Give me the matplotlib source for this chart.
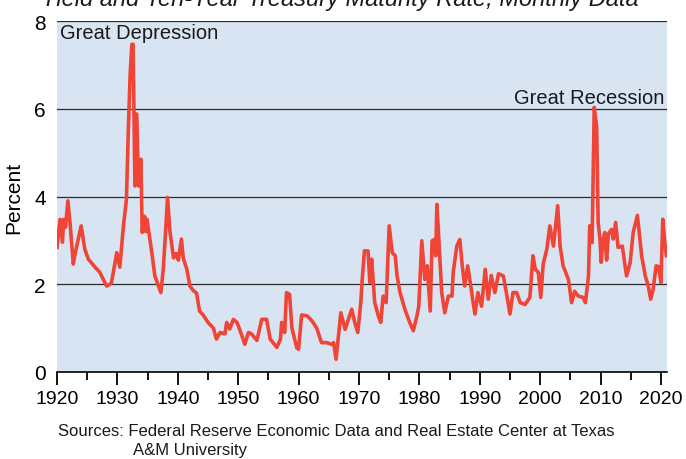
import matplotlib
matplotlib.use("Agg")
import matplotlib.pyplot as plt
from matplotlib.ticker import MultipleLocator

plt.rcParams['font.family'] = ['Liberation Sans Narrow', 'Liberation Sans', 'DejaVu Sans']

years = [1920.0, 1920.5, 1920.9, 1921.1, 1921.4, 1921.8, 1922.2, 1922.7, 1923.0, 1924.0,
         1924.6, 1925.2, 1926.3, 1927.1, 1928.2, 1929.0, 1929.9, 1930.4, 1931.0, 1931.5,
         1931.8, 1932.1, 1932.4, 1932.6, 1932.9, 1933.2, 1933.5, 1933.9, 1934.1, 1934.5,
         1934.7, 1934.9, 1935.3, 1935.7, 1936.2, 1936.8, 1937.2, 1937.6, 1938.0, 1938.3,
         1938.7, 1939.3, 1939.7, 1940.1, 1940.6, 1940.9, 1941.5, 1942.0, 1942.6, 1943.1,
         1943.6, 1944.2, 1945.0, 1945.9, 1946.4, 1947.0, 1947.8, 1948.1, 1948.6, 1949.2,
         1949.8, 1950.3, 1951.1, 1951.7, 1952.2, 1953.1, 1953.9, 1954.7, 1955.3, 1956.4,
         1957.0, 1957.2, 1957.7, 1958.0, 1958.5, 1958.9, 1959.7, 1960.0, 1960.5, 1961.4,
         1962.0, 1962.4, 1963.0, 1963.8, 1964.6, 1965.5, 1965.8, 1966.2, 1966.6, 1967.0,
         1967.7, 1968.8, 1969.3, 1969.8, 1970.3, 1970.5, 1970.9, 1971.5, 1971.8, 1972.1,
         1972.6, 1973.2, 1973.6, 1974.0, 1974.5, 1975.0, 1975.5, 1976.0, 1976.3, 1976.8,
         1977.6, 1978.4, 1979.0, 1979.6, 1979.9, 1980.4, 1980.9, 1981.3, 1981.8, 1982.1,
         1982.5, 1982.7, 1982.9, 1983.1, 1983.7, 1984.2, 1984.8, 1985.4, 1985.6, 1986.2,
         1986.7, 1987.1, 1987.5, 1988.0, 1988.6, 1988.9, 1989.2, 1989.7, 1990.3, 1990.9,
         1991.4, 1991.9, 1992.5, 1993.1, 1993.9, 1994.5, 1995.0, 1995.5, 1996.1, 1996.7,
         1997.5, 1998.3, 1998.8, 1999.2, 1999.7, 2000.1, 2000.5, 2001.1, 2001.6, 2002.2,
         2002.9, 2003.3, 2003.8, 2004.7, 2005.2, 2005.7, 2006.3, 2007.1, 2007.5, 2008.0,
         2008.2, 2008.6, 2008.95, 2009.35, 2009.6, 2009.9, 2010.1, 2010.4, 2010.7, 2011.0,
         2011.3, 2011.8, 2012.1, 2012.5, 2012.9, 2013.6, 2014.3, 2014.9, 2015.4, 2016.1,
         2016.8, 2017.4, 2017.9, 2018.3, 2018.7, 2019.2, 2019.6, 2020.0, 2020.3, 2020.6,
         2020.9]
spread = [2.84, 3.48, 2.96, 3.48, 3.30, 3.90, 3.33, 2.46, 2.70, 3.33,
          2.80, 2.57, 2.39, 2.27, 1.96, 2.02, 2.72, 2.39, 3.33, 3.94,
          5.46, 6.75, 7.47, 7.47, 4.24, 5.88, 4.24, 4.85, 3.18, 3.55,
          3.20, 3.48, 3.10, 2.72, 2.19, 1.96, 1.81, 2.35, 3.25, 3.98,
          3.20, 2.60, 2.70, 2.55, 3.03, 2.60, 2.34, 1.96, 1.85, 1.80,
          1.39, 1.30, 1.13, 1.00, 0.75, 0.90, 0.87, 1.13, 0.98, 1.20,
          1.13, 0.95, 0.63, 0.90, 0.87, 0.72, 1.20, 1.20, 0.75, 0.56,
          0.75, 1.13, 0.90, 1.81, 1.77, 1.00, 0.55, 0.52, 1.30, 1.28,
          1.20, 1.13, 1.00, 0.67, 0.67, 0.63, 0.67, 0.29, 0.83, 1.35,
          0.97, 1.43, 1.13, 0.90, 1.58, 2.04, 2.76, 2.76, 2.04, 2.57,
          1.59, 1.28, 1.13, 1.73, 1.58, 3.33, 2.72, 2.65, 2.20, 1.81,
          1.43, 1.13, 0.94, 1.28, 1.50, 2.99, 2.11, 2.42, 1.39, 2.99,
          3.02, 2.65, 3.82, 3.33, 1.81, 1.35, 1.73, 1.73, 2.27, 2.87,
          3.02, 2.42, 1.96, 2.42, 1.88, 1.58, 1.32, 1.81, 1.50, 2.34,
          1.66, 2.20, 1.81, 2.24, 2.19, 1.73, 1.32, 1.81, 1.81, 1.58,
          1.54, 1.70, 2.65, 2.34, 2.27, 1.70, 2.46, 2.80, 3.33, 2.87,
          3.79, 2.87, 2.42, 2.10, 1.58, 1.84, 1.73, 1.70, 1.58, 2.19,
          3.33, 2.95, 6.03, 5.60, 3.41, 3.03, 2.50, 2.99, 3.18, 2.55,
          3.15, 3.25, 3.03, 3.41, 2.84, 2.87, 2.19, 2.49, 3.18, 3.57,
          2.65, 2.19, 1.96, 1.66, 1.88, 2.42, 2.40, 2.04, 3.48, 3.00,
          2.65]

x_ticks = list(range(1920, 2021, 10))
y_ticks = [0, 2, 4, 6, 8]

fig = plt.figure(figsize=(6.86, 4.60), dpi=100)
ax = fig.add_axes([57/686, 1 - 373/460, (667 - 57)/686, (373 - 22)/460])
ax.set_facecolor('#d9e4f3')

for yv in y_ticks[1:]:
    ax.axhline(yv, color='#2b2b2b', lw=0.9, zorder=1)

ax.plot(years, spread, color='#f04437', lw=2.6, solid_joinstyle='round', zorder=3)

ax.set_xlim(1920, 2021)
ax.set_ylim(0, 8)
ax.set_xticks(x_ticks)
ax.set_xticklabels([str(v) for v in x_ticks])
ax.xaxis.set_minor_locator(MultipleLocator(5))
ax.set_yticks(y_ticks)
ax.set_yticklabels([str(v) for v in y_ticks])

for s in ['top', 'right', 'left']:
    ax.spines[s].set_visible(False)
ax.spines['bottom'].set_color('black')
ax.spines['bottom'].set_linewidth(1.2)

ax.tick_params(axis='x', which='major', direction='out', length=9, width=1.3,
               color='black', labelsize=14, pad=4)
ax.tick_params(axis='x', which='minor', direction='out', length=6, width=1.3, color='black')
ax.tick_params(axis='y', length=0, labelsize=15, pad=8)

ax.set_ylabel('Percent', fontsize=15, labelpad=8)

ax.text(0.005, 0.993, 'Great Depression', transform=ax.transAxes, ha='left', va='top',
        fontsize=14.5, color='#1a1a1a')
ax.text(0.995, 6.05, 'Great Recession', transform=ax.get_yaxis_transform(), ha='right',
        va='bottom', fontsize=14.5, color='#1a1a1a')

fig.text(41/686, 1 - 6/460, 'Yield and Ten-Year Treasury Maturity Rate, Monthly Data',
         ha='left', va='baseline', fontsize=17, style='italic', color='#1a1a1a')

fig.text(58/686, 1 - 436/460, 'Sources: Federal Reserve Economic Data and Real Estate Center at Texas',
         ha='left', va='baseline', fontsize=12, color='#1a1a1a')
fig.text(133/686, 1 - 455/460, 'A&M University',
         ha='left', va='baseline', fontsize=12, color='#1a1a1a')

fig.savefig('out.png', dpi=100)
